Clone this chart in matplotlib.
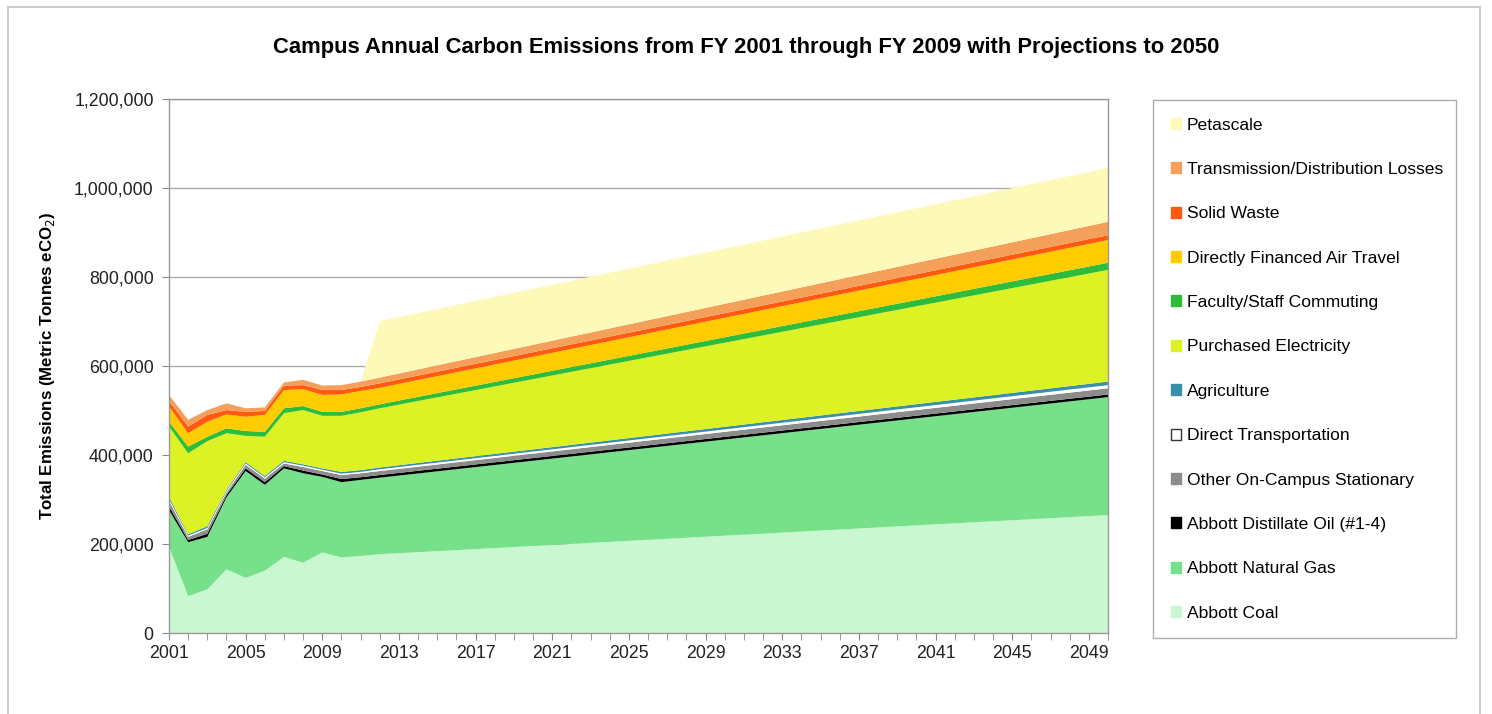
"""校园年度碳排放面积堆叠图（FY2001-FY2009 实测，投影至 2050）"""
import matplotlib
matplotlib.use('Agg')
import matplotlib.pyplot as plt
from matplotlib.patches import Patch, Rectangle
from matplotlib.ticker import FuncFormatter, MultipleLocator, FixedLocator

plt.rcParams['font.family'] = ['Liberation Sans', 'DejaVu Sans']
plt.rcParams['savefig.facecolor'] = 'white'

# 年份（2012 之后为线性投影，只取端点）
years = [2001, 2002, 2003, 2004, 2005, 2006, 2007, 2008, 2009, 2010, 2011, 2012, 2050]

# 各类排放（千吨 eCO2），自下而上
abbott_coal      = [194, 83, 98, 143, 124, 140, 171, 158, 181, 170, 173, 177, 265]
abbott_gas       = [82, 121, 118, 162, 240, 193, 199, 201, 170, 169, 171, 172, 265]
abbott_oil       = [9, 5, 7, 5, 6, 6, 5, 6, 5, 7, 6, 6, 6]
other_stationary = [12, 7, 10, 6, 8, 8, 6, 8, 8, 9, 9, 9, 14]
direct_transport = [4, 3, 3, 3, 3, 3, 3, 3, 3, 3, 3, 4, 7]
agriculture      = [5, 3, 4, 3, 3, 3, 3, 3, 3, 4, 4, 4, 8]
electricity      = [158, 182, 191, 127, 59, 88, 107, 122, 118, 126, 130, 133, 251]
commuting        = [11, 15, 10, 11, 11, 11, 11, 9, 9, 9, 9, 9, 16]
air_travel       = [34, 30, 34, 31, 32, 38, 41, 38, 38, 39, 39, 37, 51]
solid_waste      = [12, 15, 15, 10, 11, 9, 10, 9, 11, 10, 9, 10, 11]
td_losses        = [14, 15, 11, 15, 8, 8, 7, 12, 10, 11, 12, 13, 30]
petascale        = [0, 0, 0, 0, 0, 0, 0, 0, 0, 0, 0, 127, 121]

labels = ['Abbott Coal', 'Abbott Natural Gas', 'Abbott Distillate Oil (#1-4)',
          'Other On-Campus Stationary', 'Direct Transportation', 'Agriculture',
          'Purchased Electricity', 'Faculty/Staff Commuting', 'Directly Financed Air Travel',
          'Solid Waste', 'Transmission/Distribution Losses', 'Petascale']
series = [abbott_coal, abbott_gas, abbott_oil, other_stationary, direct_transport,
          agriculture, electricity, commuting, air_travel, solid_waste, td_losses, petascale]
colors = ['#C9F7CF', '#76E08A', '#000000', '#8C8C8C', '#FFFFFF', '#3A90A8',
          '#DDF224', '#2DBD3A', '#FFCC00', '#FF5A10', '#F5A05A', '#FDF9B8']

W, H = 1492, 714
fig = plt.figure(figsize=(W / 100, H / 100), dpi=100)
ax = fig.add_axes([169 / W, 1 - 633 / H, (1108 - 169) / W, (633 - 99) / H])

values = [[v * 1000 for v in s] for s in series]
ax.stackplot(years, values, colors=colors, linewidth=0)

ax.set_xlim(2001, 2050)
ax.set_ylim(0, 1200000)
ax.yaxis.set_major_locator(MultipleLocator(200000))
ax.yaxis.set_major_formatter(FuncFormatter(lambda v, p: f'{int(v):,}'))
ax.xaxis.set_major_locator(FixedLocator(list(range(2001, 2050, 4))))
ax.xaxis.set_minor_locator(FixedLocator(list(range(2001, 2051))))
ax.tick_params(axis='both', which='both', direction='out', color='#888888',
               labelsize=12.8, labelcolor='#222222')
ax.tick_params(axis='x', which='both', length=5)
ax.tick_params(axis='y', length=5, pad=6)
ax.grid(axis='y', color='#AAAAAA', linewidth=1)
ax.set_axisbelow(True)
for sp in ax.spines.values():
    sp.set_color('#999999')
    sp.set_linewidth(1)

ax.set_ylabel('Total Emissions (Metric Tonnes eCO$_2$)', fontsize=12.2,
              fontweight='bold', labelpad=12)
fig.text(0.5, 1 - 48 / H,
         'Campus Annual Carbon Emissions from FY 2001 through FY 2009 with Projections to 2050',
         ha='center', va='center', fontsize=15.8, fontweight='bold')

# 图例：顺序与堆叠相反
handles = [Patch(facecolor=c, edgecolor=('#333333' if c == '#FFFFFF' else c), label=l)
           for c, l in zip(colors, labels)][::-1]
leg = fig.legend(handles=handles, loc='upper left',
                 bbox_to_anchor=(1153 / W, 1 - 100 / H, (1456 - 1153) / W, 0),
                 mode='expand', fontsize=12.6, frameon=True, fancybox=False,
                 edgecolor='#999999', handlelength=0.6, handleheight=0.6,
                 handletextpad=0.35, labelspacing=1.68, borderpad=1.0,
                 borderaxespad=0)
leg.get_frame().set_linewidth(1)

# 外框
fig.patches.append(Rectangle((8 / W, -0.01), (1480 - 8) / W, 1.0, transform=fig.transFigure,
                             fill=False, edgecolor='#CCCCCC', linewidth=1.5))

fig.savefig('out.png', dpi=100)
plt.close(fig)
